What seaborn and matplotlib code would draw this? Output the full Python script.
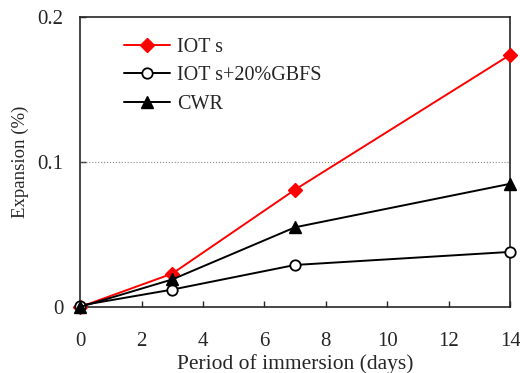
import pandas as pd
import seaborn as sns
import matplotlib.pyplot as plt

# data
days = [0, 3, 7, 14]
iots = [0.0, 0.023, 0.081, 0.174]
iots_gbfs = [0.001, 0.012, 0.029, 0.038]
cwr = [0.0, 0.019, 0.055, 0.085]
series_names = ["IOTs", "IOTs+20%GBFS", "CWR"]

df = pd.DataFrame({
    "days": days * 3,
    "expansion": iots + iots_gbfs + cwr,
    "series": [s for s in series_names for _ in days],
})

sns.set_style("ticks")
plt.rcParams["font.family"] = ["Liberation Serif", "DejaVu Serif"]

fig = plt.figure(figsize=(5.2, 3.73), dpi=100)
ax = fig.add_axes([0.154, 0.177, 0.827, 0.777])

styles = {
    "IOTs": dict(color="#ff0000", marker="D", mfc="#ff0000", mec="#ff0000", ms=7),
    "IOTs+20%GBFS": dict(color="black", marker="o", mfc="white", mec="black", ms=7.5, mew=1.3),
    "CWR": dict(color="black", marker="^", mfc="black", mec="black", ms=8.5),
}
labels = {"IOTs": "IOT s", "IOTs+20%GBFS": "IOT s+20%GBFS", "CWR": "CWR"}

for name in series_names:
    st = styles[name]
    sub = df[df["series"] == name]
    sns.lineplot(data=sub, x="days", y="expansion", ax=ax, color=st["color"],
                 marker=st["marker"], markersize=st["ms"],
                 markerfacecolor=st["mfc"], markeredgecolor=st["mec"],
                 markeredgewidth=st.get("mew", 1), linewidth=1.4,
                 label=labels[name], clip_on=False, zorder=3)

ax.axhline(0.1, color="#888888", linestyle=":", linewidth=0.8, zorder=1)

ax.set_xlim(0, 14)
ax.set_ylim(0, 0.2)
ax.set_xticks(range(0, 15, 2))
ax.set_yticks([0, 0.1, 0.2])
ax.set_yticklabels(["0", "0.1", "0.2"])
ax.tick_params(direction="in", length=4, width=1, labelsize=15)
ax.tick_params(axis="x", pad=18)
ax.tick_params(axis="y", pad=12)
for sp in ax.spines.values():
    sp.set_linewidth(1.2)
    sp.set_visible(True)

ax.set_xlabel("Period of immersion (days)", fontsize=15.5, labelpad=2.5)
ax.set_ylabel("Expansion (%)", fontsize=13.5, labelpad=6)

ax.legend(loc="upper left", bbox_to_anchor=(0.06, 0.99), frameon=False,
          fontsize=14.5, handlelength=2.3, labelspacing=0.45, handletextpad=0.35)

fig.savefig("out.png", dpi=100)
